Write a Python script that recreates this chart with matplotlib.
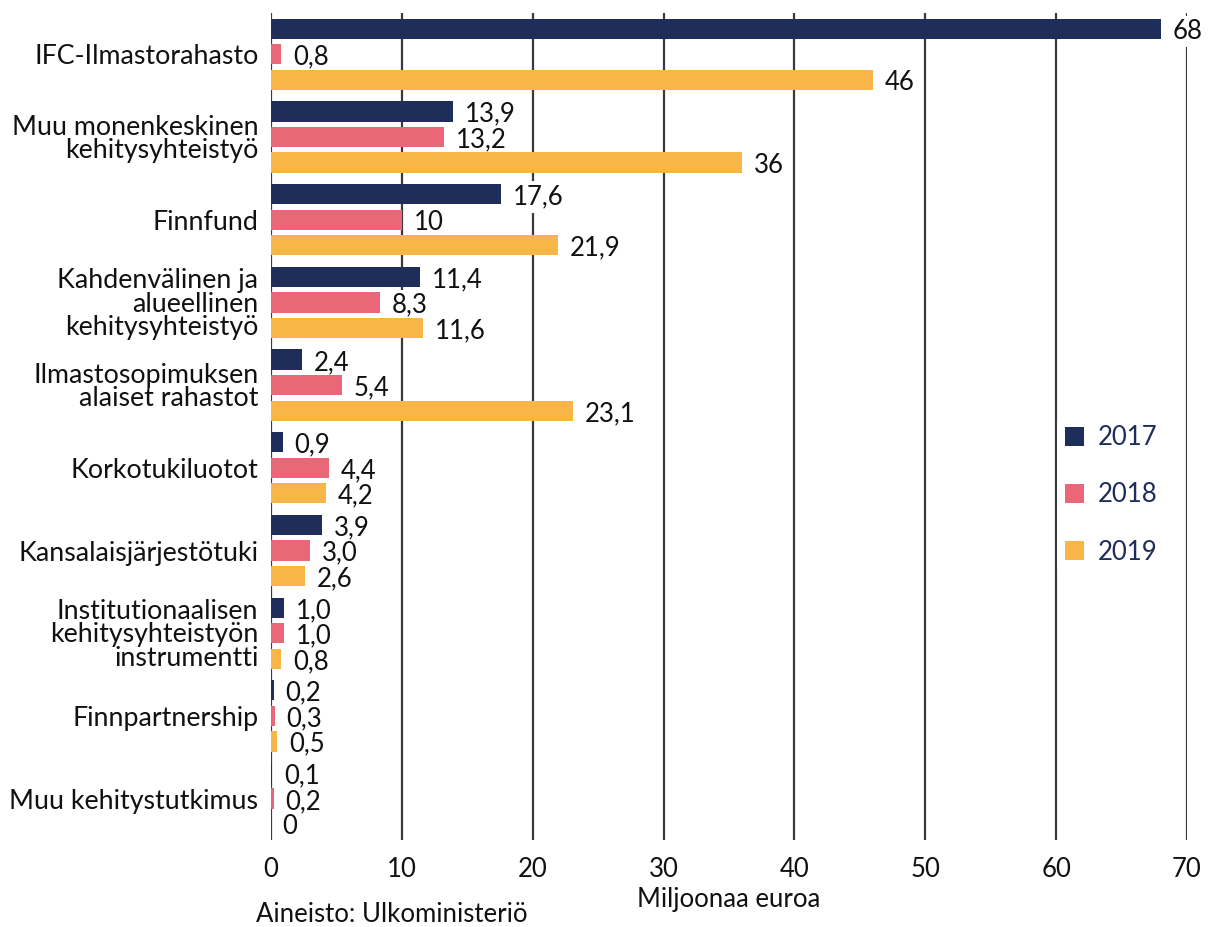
import matplotlib
matplotlib.use("Agg")
import matplotlib.pyplot as plt
import numpy as np

categories = [
    "IFC-Ilmastorahasto",
    "Muu monenkeskinen\nkehitysyhteistyö",
    "Finnfund",
    "Kahdenvälinen ja\nalueellinen\nkehitysyhteistyö",
    "Ilmastosopimuksen\nalaiset rahastot",
    "Korkotukiluotot",
    "Kansalaisjärjestötuki",
    "Institutionaalisen\nkehitysyhteistyön\ninstrumentti",
    "Finnpartnership",
    "Muu kehitystutkimus",
]
years = ["2017", "2018", "2019"]
v2017 = [68, 13.9, 17.6, 11.4, 2.4, 0.9, 3.9, 1.0, 0.2, 0.1]
v2018 = [0.8, 13.2, 10, 8.3, 5.4, 4.4, 3.0, 1.0, 0.3, 0.2]
v2019 = [46, 36, 21.9, 11.6, 23.1, 4.2, 2.6, 0.8, 0.5, 0]
l2017 = ["68", "13,9", "17,6", "11,4", "2,4", "0,9", "3,9", "1,0", "0,2", "0,1"]
l2018 = ["0,8", "13,2", "10", "8,3", "5,4", "4,4", "3,0", "1,0", "0,3", "0,2"]
l2019 = ["46", "36", "21,9", "11,6", "23,1", "4,2", "2,6", "0,8", "0,5", "0"]
xticks = [0, 10, 20, 30, 40, 50, 60, 70]

colors = ["#1f2d5a", "#ea6777", "#f9b548"]
FONT = "Lato"
FS = 18.5
FSC = 19.3
plt.rcParams["font.family"] = [FONT, "DejaVu Sans"]

fig = plt.figure(figsize=(12.09, 9.27), dpi=100)
ax = fig.add_axes([0.2241, 0.0939, 0.9818 - 0.2241, 0.986 - 0.0939])

y = np.arange(len(categories))
offs = [-0.309, 0.0, 0.309]
h = 0.245
series = [v2017, v2018, v2019]
labels = [l2017, l2018, l2019]

for gx in xticks:
    ax.axvline(gx, color="#3a3a3a", lw=1.6, zorder=0)

for s, (vals, labs, c, o) in enumerate(zip(series, labels, colors, offs)):
    ax.barh(y + o, vals, height=h, color=c, label=years[s], zorder=2)
    for yi, v, lab in zip(y, vals, labs):
        # white knock-out behind the label (under the bars)
        ax.annotate(lab, xy=(v, yi + o), xytext=(8.5, -2), textcoords="offset points",
                    ha="left", va="center", fontsize=FS, color="white",
                    bbox=dict(boxstyle="square,pad=0.12", fc="white", ec="none"),
                    zorder=1)
        ax.annotate(lab, xy=(v, yi + o), xytext=(8.5, -2), textcoords="offset points",
                    ha="left", va="center", fontsize=FS, color="#111111",
                    zorder=3)

ax.set_ylim(len(categories) - 0.5, -0.5)
ax.set_xlim(0, 70)
ax.set_yticks(y)
ax.set_yticklabels(categories, fontsize=FSC, color="#111111", linespacing=0.92)
ax.set_xticks(xticks)
ax.set_xticklabels([str(t) for t in xticks], fontsize=FS, color="#111111")
ax.tick_params(axis="both", length=0)
ax.tick_params(axis="y", pad=9)
ax.tick_params(axis="x", pad=12)
for sp in ax.spines.values():
    sp.set_visible(False)

ax.set_xlabel("Miljoonaa euroa", fontsize=FS, color="#111111", labelpad=4)

fig.text(256 / 1209, 1 - 915 / 927, "Aineisto: Ulkoministeriö", fontsize=FS,
         color="#111111", ha="left", va="center")

leg = ax.legend(loc="center left", bbox_to_anchor=(1044 / 1209, 1 - 495 / 927),
                bbox_transform=fig.transFigure, frameon=True, fontsize=FS,
                handlelength=0.75, handleheight=0.75, labelspacing=1.25,
                handletextpad=0.55, borderpad=0.3)
leg.get_frame().set_facecolor("white")
leg.get_frame().set_edgecolor("none")
for t in leg.get_texts():
    t.set_color("#1f2d5a")

fig.savefig("out.png", dpi=100, facecolor="white")
